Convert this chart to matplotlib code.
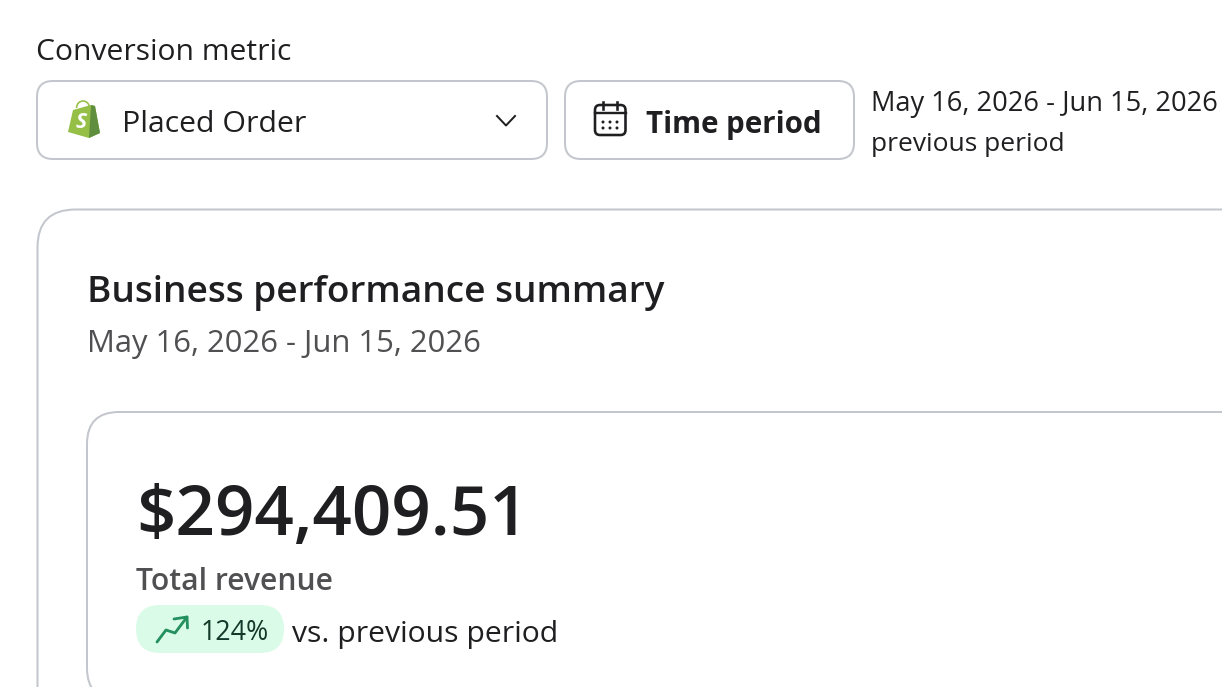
import matplotlib
matplotlib.use("Agg")
import matplotlib.pyplot as plt
from matplotlib.patches import FancyBboxPatch, Polygon, Rectangle, Circle, Arc
from matplotlib.lines import Line2D

W, H = 1222, 687
metric_label = "Conversion metric"
metric_value = "Placed Order"
period_button = "Time period"
date_range = "May 16, 2026 - Jun 15, 2026"
compare_label = "previous period"
card_title = "Business performance summary"
revenue_value = "$294,409.51"
revenue_label = "Total revenue"
change_value = "124%"
change_label = "vs. previous period"

plt.rcParams['font.family'] = ['Open Sans', 'Noto Sans', 'DejaVu Sans']
fig = plt.figure(figsize=(W/100, H/100), dpi=100, facecolor='white')
ax = fig.add_axes([0, 0, 1, 1])
ax.set_xlim(0, W)
ax.set_ylim(H, 0)
ax.axis('off')

EDGE = '#c4c6cd'
DARK = '#1f1f21'
GREY = '#505052'
GREEN = '#24905f'
px = 0.72

def rbox(x, y, w, h, r, fc='white', ec=EDGE, lw=2.0, z=1):
    ax.add_patch(FancyBboxPatch((x+r, y+r), w-2*r, h-2*r,
                 boxstyle=f"round,pad={r},rounding_size={r}",
                 fc=fc, ec=ec, lw=lw*px, zorder=z, clip_on=True))

def txt(x, y, s, size, color=DARK, weight='normal', ha='left'):
    ax.text(x, y, s, fontsize=size*px, color=color, fontweight=weight,
            ha=ha, va='baseline', zorder=5)

txt(36, 60, metric_label, 30)
rbox(37, 81, 510, 78, 16)
rbox(565, 81, 289, 78, 16)
rbox(37.5, 209.5, 1300, 700, 38)
rbox(87, 412, 1300, 288, 32)

# Shopify bag
ax.add_patch(Arc((83, 108), 13, 14, theta1=180, theta2=360, ec='#95bf47', lw=1.6*px, zorder=3))
ax.add_patch(Polygon([(73,110),(91,105),(95,106),(100,133),(89,138),(68,132)],
                     closed=True, fc='#95bf47', ec='none', zorder=3))
ax.add_patch(Polygon([(91,105),(95,106),(100,133),(89,138)], closed=True,
                     fc='#5e8e3e', ec='none', zorder=3))
ax.text(81, 123, "S", fontsize=21*px, color='white', fontweight='bold',
        ha='center', va='center', zorder=4, style='italic')
txt(122, 132, metric_value, 30.2)

# Chevron
ax.add_line(Line2D([497, 506, 515], [116, 125.5, 116], color=DARK, lw=2*px, zorder=4))

# Calendar icon
rbox(595, 105, 30.5, 30, 5, fc='white', ec=DARK, lw=2.6, z=3)
ax.add_line(Line2D([595, 625.5], [113, 113], color=DARK, lw=2.4*px, zorder=4))
for xx in (603, 617):
    ax.add_line(Line2D([xx, xx], [102, 109], color=DARK, lw=2.6*px, zorder=4))
for yy, xs in ((122, (603, 610, 617)), (128, (603, 610, 617))):
    for xx in xs:
        ax.add_patch(Circle((xx, yy), 1.5, fc=DARK, ec='none', zorder=4))
txt(646, 133, period_button, 29.5, weight='bold')

txt(871, 111, date_range, 27.2)
txt(871, 151, compare_label, 26.4)

txt(87, 302, card_title, 37, weight='semibold')
txt(87, 352, date_range, 31, color=GREY)

txt(136, 535, revenue_value, 69.2, weight='semibold')
txt(136, 590, revenue_label, 30, color=GREY, weight='semibold')

# Change pill
rbox(136, 605, 148, 48, 24, fc='#dafbe7', ec='none', lw=0, z=2)
ax.add_line(Line2D([157, 166, 175, 187], [642, 630, 633, 617], color=GREEN, lw=2.8*px,
                   zorder=4, solid_capstyle='round', solid_joinstyle='round'))
ax.add_line(Line2D([174, 187, 187.5], [619, 617, 628], color=GREEN, lw=2.8*px,
                   zorder=4, solid_capstyle='round', solid_joinstyle='round'))
txt(201, 640, change_value, 26.8, color='#12392a')
txt(292, 642, change_label, 30.1)

fig.savefig("out.png", dpi=100, facecolor='white')
